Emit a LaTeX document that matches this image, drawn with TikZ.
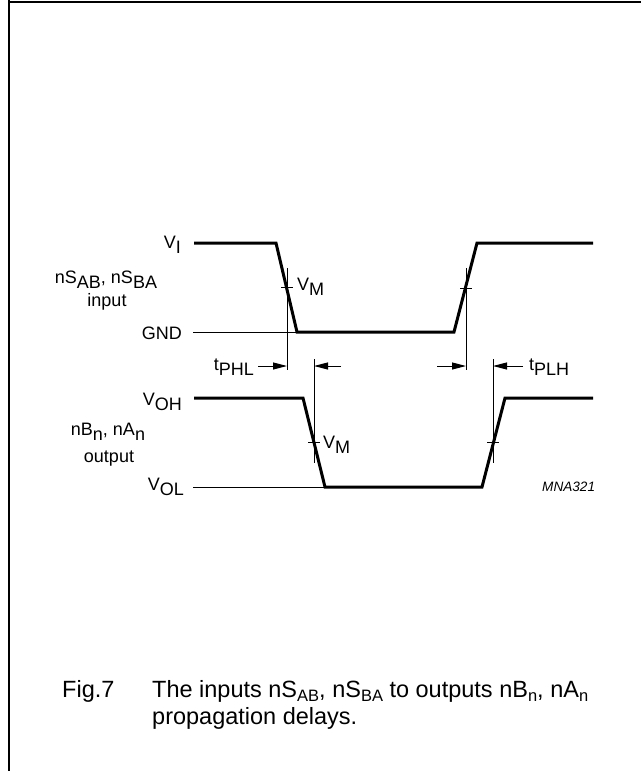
\documentclass[tikz,border=0pt]{standalone}
\usepackage{fontspec}
\setmainfont{Liberation Sans}
\usetikzlibrary{arrows.meta}
\newcommand{\dsub}[1]{\raisebox{-5pt}{#1}}
\newcommand{\csub}[1]{\raisebox{-4.5pt}{\fontsize{16.5}{16.5}\selectfont #1}}
\begin{document}
\begin{tikzpicture}[x=1pt,y=-1pt,
  wave/.style={line width=3pt, line join=miter},
  thinln/.style={line width=1pt},
  dimarrow/.style={line width=1pt,-{Triangle[length=14pt,width=7pt]}},
  lbl/.style={font=\fontsize{18}{21}\selectfont, inner sep=0pt},
  captext/.style={font=\fontsize{23.5}{27}\selectfont, inner sep=0pt, anchor=base west},
  frameline/.style={line width=2pt}]
\useasboundingbox (0,0) rectangle (641,771);
% frame
\coordinate (ftr) at (641,1.5);
\coordinate (fbl) at (9,771);
\draw[frameline] (fbl) -- (9,0);
\draw[frameline] (8,1.5) -- (ftr);

% input waveform
\coordinate (i1) at (194,243);
\coordinate (i2) at (276,243);
\coordinate (i3) at (297,332);
\coordinate (i4) at (454,332);
\coordinate (i5) at (477,243);
\coordinate (i6) at (593,243);
\draw[wave] (i1) -- (i2) -- (i3) -- (i4) -- (i5) -- (i6);
\coordinate (gnd0) at (193,332);
\draw[thinln] (gnd0) -- (i3);

% output waveform
\coordinate (o1) at (194,398);
\coordinate (o2) at (303,398);
\coordinate (o3) at (325,487);
\coordinate (o4) at (482,487);
\coordinate (o5) at (505,398);
\coordinate (o6) at (593,398);
\draw[wave] (o1) -- (o2) -- (o3) -- (o4) -- (o5) -- (o6);
\coordinate (vol0) at (193,487);
\draw[thinln] (vol0) -- (o3);

% measurement verticals and ticks
\coordinate (a1t) at (287,268); \coordinate (a1b) at (287,370);
\draw[thinln] (a1t) -- (a1b);
\draw[thinln] (281,287) -- (293,287);
\coordinate (a2t) at (466,268); \coordinate (a2b) at (466,370);
\draw[thinln] (a2t) -- (a2b);
\draw[thinln] (460,288) -- (472,288);
\coordinate (b1t) at (314,359); \coordinate (b1b) at (314,463);
\draw[thinln] (b1t) -- (b1b);
\draw[thinln] (308,442) -- (320,442);
\coordinate (b2t) at (493,359); \coordinate (b2b) at (493,463);
\draw[thinln] (b2t) -- (b2b);
\draw[thinln] (487,442) -- (499,442);

% dimension arrows
\coordinate (d1s) at (258,366); \coordinate (d1e) at (287,366);
\draw[dimarrow] (d1s) -- (d1e);
\coordinate (d2s) at (341,366); \coordinate (d2e) at (314,366);
\draw[dimarrow] (d2s) -- (d2e);
\coordinate (d3s) at (437,366); \coordinate (d3e) at (466,366);
\draw[dimarrow] (d3s) -- (d3e);
\coordinate (d4s) at (523,366); \coordinate (d4e) at (493,366);
\draw[dimarrow] (d4s) -- (d4e);

% labels
\node[lbl, anchor=base east] (vi) at (181,248) {V\dsub{I}};
\node[lbl, anchor=base east] (gnd) at (182,339) {GND};
\node[lbl, anchor=base] (ins) at (106,283) {nS\dsub{AB}, nS\dsub{BA}};
\node[lbl, anchor=base] (inp) at (107,306) {input};
\node[lbl, anchor=base west] (vm1) at (297,290) {V\dsub{M}};
\node[lbl, anchor=base east] (tphl) at (254,370) {t\dsub{PHL}};
\node[lbl, anchor=base west] (tplh) at (529,370) {t\dsub{PLH}};
\node[lbl, anchor=base east] (voh) at (182,405) {V\dsub{OH}};
\node[lbl, anchor=base east] (vol) at (184,490) {V\dsub{OL}};
\node[lbl, anchor=base] (outs) at (108,435) {nB\dsub{n}, nA\dsub{n}};
\node[lbl, anchor=base] (outp) at (109,462) {output};
\node[lbl, anchor=base west] (vm2) at (323,448) {V\dsub{M}};
\node[inner sep=0pt, anchor=base west, font=\fontsize{13.6}{16}\selectfont\itshape] (code) at (542,491) {MNA321};

% caption
\node[captext] (fig) at (62,697) {Fig.7};
\node[captext] (c1) at (152,697) {The inputs nS\csub{AB}, nS\csub{BA} to outputs nB\csub{n}, nA\csub{n}};
\node[captext] (c2) at (152,724) {propagation delays.};
\end{tikzpicture}
\end{document}
